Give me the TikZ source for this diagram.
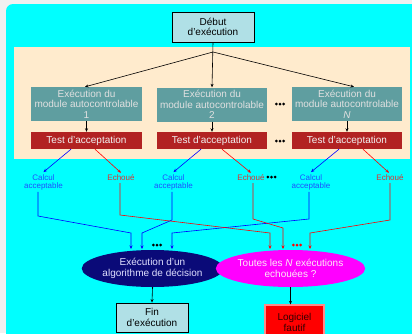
\documentclass[tikz,border=0pt]{standalone}
\usepackage{fontspec}
\setmainfont{Liberation Sans}
\usetikzlibrary{shapes.geometric,arrows.meta,calc}

\definecolor{pagegray}{HTML}{F0F0F0}
\definecolor{bgcyan}{HTML}{00FFFF}
\definecolor{panel}{HTML}{FFEBCD}
\definecolor{startfill}{HTML}{B0E0E6}
\definecolor{modfill}{HTML}{5F9EA0}
\definecolor{testfill}{HTML}{B22222}
\definecolor{decfill}{HTML}{0A0A78}
\definecolor{failfill}{HTML}{FF00FF}
\definecolor{okline}{HTML}{0000FF}
\definecolor{koline}{HTML}{FF0000}
\definecolor{oklabel}{HTML}{1E50FF}
\definecolor{kolabel}{HTML}{E03030}
\definecolor{faultfill}{HTML}{FF0000}
\definecolor{faultedge}{HTML}{FF8A8A}

\begin{document}
\begin{tikzpicture}[x=1pt,y=-1pt,
  txt/.style={font=\fontsize{10}{10.5}\selectfont, align=center},
  small/.style={font=\fontsize{8}{8}\selectfont, align=center, inner sep=2pt},
  endbox/.style={draw=black, line width=0.9pt, fill=startfill, txt, inner sep=0pt},
  modbox/.style={fill=modfill, minimum width=111pt, minimum height=34pt, txt,
                 text=white!88!black, inner sep=0pt},
  testbox/.style={fill=testfill, minimum width=111pt, minimum height=17pt, txt,
                  text=white!95!black, inner sep=0pt},
  decision/.style={ellipse, minimum width=131pt, minimum height=37pt, inner sep=0pt,
                   txt, font=\fontsize{10}{11}\selectfont},
  arr/.style={-{Stealth[length=3.5pt,width=3pt]}, line width=0.6pt},
  okarr/.style={arr, draw=okline},
  koarr/.style={arr, draw=koline},
  tripledot/.pic={\foreach \i in {-1,0,1} \fill (\i*3.6,0) circle (1.5pt);}
]
\useasboundingbox (0,0) rectangle (412,333);
\clip (0,0) rectangle (412,333);

% backgrounds
\fill[pagegray] (0,0) rectangle (412,333);
\fill[bgcyan, rounded corners=7pt] (6,4) rectangle (420,345);
\fill[panel] (14,47) rectangle (410,159);

% start node
\node[endbox, minimum width=82pt, minimum height=30pt] (deb) at (213,27)
  {Début\\d'exécution};

% self-checking modules
\node[modbox] (m1) at (86.5,104) {Exécution du\\module autocontrolable\\1};
\node[modbox, minimum width=110pt] (m2) at (212,104.5) {Exécution du\\module autocontrolable\\2};
\node[modbox, minimum width=110pt] (mN) at (347,104) {Exécution du\\module autocontrolable\\\textit{N}};

% acceptance tests
\node[testbox] (t1) at (86.5,140.5) {Test d'acceptation};
\node[testbox, minimum width=110pt] (t2) at (212,140.5) {Test d'acceptation};
\node[testbox, minimum width=110pt] (tN) at (347,140.5) {Test d'acceptation};

\pic at (280,104) {tripledot};
\pic at (280,141) {tripledot};

% fan-out from the start node
\coordinate (fork) at (213,52);
\draw[arr] (deb.south) -- (m2.north);
\draw[arr] (fork) -- ([xshift=-1.5pt]m1.north);
\draw[arr] (fork) -- ([xshift=7pt]mN.north);

\draw[arr] (m1) -- (t1);
\draw[arr] (m2) -- (t2);
\draw[arr] (mN) -- (tN);

% outcome labels
\node[small, text=oklabel] (c1) at (43.5,182) {Calcul\\acceptable};
\node[small, text=oklabel] (c2) at (173.5,182) {Calcul\\acceptable};
\node[small, text=oklabel] (cN) at (311,182) {Calcul\\acceptable};
\node[small, text=kolabel] (e1) at (121,178) {Echoué};
\node[small, text=kolabel] (e2) at (251,178) {Echoué};
\node[small, text=kolabel] (eN) at (390,178) {Echoué};

\pic at (271.5,177) {tripledot};

\draw[okarr] ([xshift=-15.5pt]t1.south) -- (c1.north);
\draw[koarr] ([xshift=8.5pt]t1.south) -- (e1.north);
\draw[okarr] ([xshift=-11pt]t2.south) -- (c2.north);
\draw[koarr] ([xshift=10pt]t2.south) -- (e2.north);
\draw[okarr] ([xshift=-8pt]tN.south) -- (cN.north);
\draw[koarr] ([xshift=16pt]tN.south) -- ([xshift=-1pt]eN.north);

% decision nodes
\node[decision, fill=decfill, text=white!88!blue] (alg) at (152.5,268.5)
  {Exécution d'un\\algorithme de décision};
\node[decision, fill=failfill, text=white!92!magenta] (rej) at (290.5,268.5)
  {Toutes les \textit{N} exécutions\\echouées ?};

\pic at (157,245) {tripledot};
\pic[red] at (297,245) {tripledot};

% bend points and entry points of the routed connectors
\coordinate (k1) at (38,216);   \coordinate (j1) at (131,233); \coordinate (a1) at (131,249);
\coordinate (k2) at (172,220);  \coordinate (j2) at (142,233); \coordinate (a2) at (142,249);
\coordinate (k3) at (309,219);  \coordinate (j3) at (172,233); \coordinate (a3) at (172,249);
\coordinate (q1) at (120,215);  \coordinate (p1) at (270,233); \coordinate (b1) at (270,249);
\coordinate (q2) at (253,219);  \coordinate (p2) at (283,228); \coordinate (b2) at (283,249);
\coordinate (q3) at (390,220);  \coordinate (p3) at (310,233); \coordinate (b3) at (310,249);

\draw[okarr] (c1.south -| k1) -- (k1) -- (j1) -- (a1);
\draw[okarr] (c2.south -| k2) -- (k2) -- (j2) -- (a2);
\draw[okarr] (cN.south -| k3) -- (k3) -- (j3) -- (a3);
\draw[koarr] (e1.south -| q1) -- (q1) -- (p1) -- (b1);
\draw[koarr] (e2.south -| q2) -- (q2) -- (p2) -- (b2);
\draw[koarr] (eN.south -| q3) -- (q3) -- (p3) -- (b3);

% end nodes
\node[endbox, minimum width=72pt, minimum height=29pt] (fin) at (152,317.5)
  {Fin\\d'exécution};
\node[fill=faultfill, draw=faultedge, line width=1.3pt, minimum width=59pt,
      minimum height=35pt, inner sep=0pt, txt, font=\fontsize{10}{11}\selectfont,
      text=black!80!red] (log) at (294.5,322.5) {Logiciel\\fautif};

\draw[arr] (alg.south) -- (fin.north);
\draw[arr] (rej.south) -- (rej.south |- log.north);
\end{tikzpicture}
\end{document}
